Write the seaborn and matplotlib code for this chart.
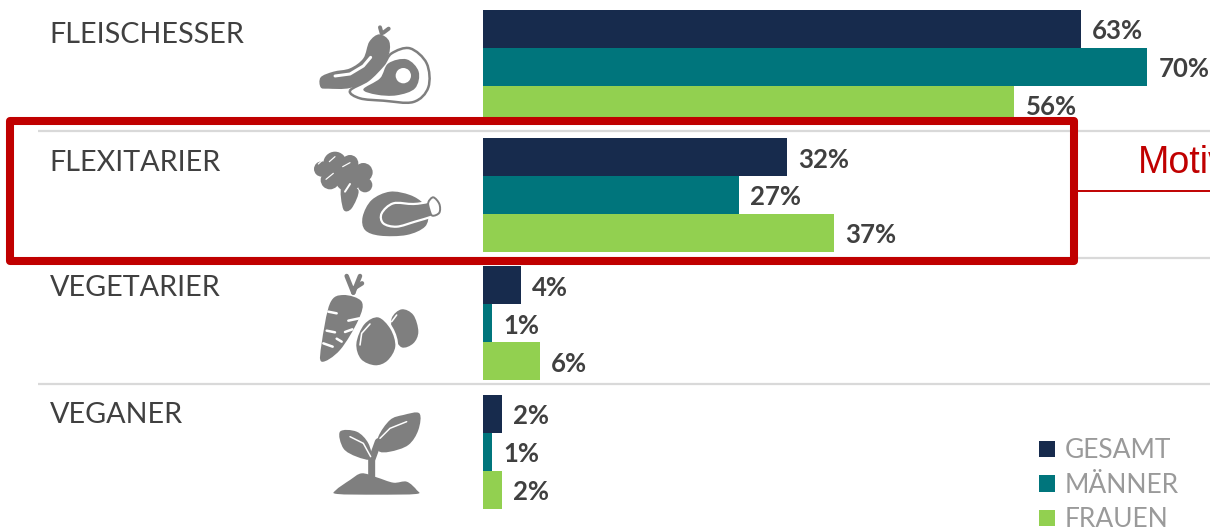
import numpy as np
import pandas as pd
import matplotlib
matplotlib.use("Agg")
import matplotlib.pyplot as plt
from matplotlib.path import Path
from matplotlib.patches import PathPatch, Rectangle, Circle
import seaborn as sns

# Survey shares in percent
diets = ["FLEISCHESSER", "FLEXITARIER", "VEGETARIER", "VEGANER"]
groups = ["GESAMT", "MÄNNER", "FRAUEN"]
gesamt = [63, 32, 4, 2]
maenner = [70, 27, 1, 1]
frauen = [56, 37, 6, 2]
callout = "Motiv"

palette = ["#172B4D", "#00757C", "#92D050"]
ICON = "#7F7F7F"
RED = "#C00000"
W, H = 1210, 527

sns.set_theme(style="white")
plt.rcParams["font.family"] = ["Lato", "DejaVu Sans"]

df = pd.DataFrame({
    "diet": np.repeat(diets, 3),
    "group": groups * 4,
    "share": [v for row in zip(gesamt, maenner, frauen) for v in row],
})

fig = plt.figure(figsize=(W / 100, H / 100), dpi=100, facecolor="white")

# Bars: one group of three per diet, on a percent axis
ax = fig.add_axes([483 / W, 0, (W - 483) / W, 1])
sns.barplot(data=df, y="diet", x="share", hue="group", order=diets, hue_order=groups,
            palette=palette, width=0.888, gap=0, saturation=1, errorbar=None,
            linewidth=0, ax=ax)
ax.set_xlim(0, (W - 483) / 9.49)
ax.set_ylim((H - 66.7) / 128.3, -66.7 / 128.3)
ax.set_xlabel("")
ax.set_ylabel("")
ax.set_xticks([])
ax.set_yticks([])
sns.despine(ax=ax, left=True, bottom=True, top=True, right=True)
ax.patch.set_alpha(0)
for container in ax.containers:
    labels = ax.bar_label(container, fmt="%g%%", padding=8, fontsize=18.5, fontweight="bold",
                          color="#404040", clip_on=False)
    for label in labels:
        label.xyann = (label.xyann[0], -1.8)
ax.legend(frameon=False, loc="lower left", bbox_to_anchor=((1018 - 483) / (W - 483), -0.05),
          fontsize=19, labelcolor="#9A9A9A", handlelength=0.6, handleheight=0.6,
          handletextpad=0.36, labelspacing=0.36, borderpad=0.3)

# Page-level overlay measured in pixels, y pointing down
pg = fig.add_axes([0, 0, 1, 1], zorder=-1)
pg.set_xlim(0, W)
pg.set_ylim(H, 0)
pg.axis("off")
top = fig.add_axes([0, 0, 1, 1], zorder=5)
top.set_xlim(0, W)
top.set_ylim(H, 0)
top.axis("off")
top.patch.set_alpha(0)

for y in (131, 258, 384):
    pg.plot([38, W], [y, y], color="#D9D9D9", lw=1.6, solid_capstyle="butt")

for name, y in zip(diets, (35, 163, 288, 415)):
    top.text(49.5, y, name, fontsize=20.7, color="#404040", va="center", ha="left")

top.add_patch(Rectangle((9.5, 121), 1064.5, 140, fill=False, ec=RED, lw=5.8, joinstyle="round"))
top.plot([1076, W], [191, 191], color=RED, lw=1.4, solid_capstyle="butt")
top.text(1138, 163, callout, fontsize=27, color=RED, va="center", ha="left",
         family=["Liberation Sans"], clip_on=True)


def smooth(points, ox, oy):
    """Closed Catmull-Rom outline through points given at triple scale."""
    p = np.array(points, float) / 3 + (ox, oy)
    n = len(p)
    verts, codes = [p[0]], [Path.MOVETO]
    for i in range(n):
        a, b, c, d = p[i - 1], p[i], p[(i + 1) % n], p[(i + 2) % n]
        verts += [b + (c - a) / 6, c - (d - b) / 6, c]
        codes += [Path.CURVE4] * 3
    return Path(verts, codes)


def blob(points, ox, oy, fc=ICON, ec="none", lw=0, z=6):
    top.add_patch(PathPatch(smooth(points, ox, oy), fc=fc, ec=ec, lw=lw, zorder=z))


def stroke(points, ox, oy, color=ICON, px=2, z=7):
    p = np.array(points, float) / 3 + (ox, oy)
    top.plot(p[:, 0], p[:, 1], color=color, lw=px * 0.72, solid_capstyle="round",
             solid_joinstyle="round", zorder=z)


def disc(x, y, r, ox, oy, color=ICON, z=6):
    top.add_patch(Circle((x / 3 + ox, y / 3 + oy), r / 3, fc=color, ec="none", zorder=z))


# Sausage and steak
ox, oy = 300, 0
blob([(62, 232), (100, 215), (150, 205), (190, 175), (208, 125), (238, 103), (268, 125),
      (262, 175), (215, 235), (150, 264), (85, 266), (62, 262)], ox, oy)
stroke([(245, 100), (240, 82)], ox, oy, px=4)
stroke([(250, 98), (266, 86)], ox, oy, px=4)
stroke([(105, 228), (150, 222), (190, 198), (212, 172)], ox, oy, color="white", px=3)
blob([(150, 272), (205, 240), (250, 195), (275, 160), (330, 145), (380, 190), (385, 262),
      (340, 306), (250, 302), (180, 295)], ox, oy, fc="white", ec=ICON, lw=1.8, z=8)
blob([(190, 268), (240, 235), (265, 190), (320, 178), (356, 215), (345, 265),
      (290, 286), (230, 284)], ox, oy, z=9)
disc(310, 227, 23, ox, oy, color="white", z=10)

# Broccoli and roast chicken
for x, y, r in [(105, 490, 35), (65, 507, 23), (150, 490, 25), (190, 517, 28),
                (195, 555, 22), (90, 540, 28), (145, 535, 40)]:
    disc(x, y, r, ox, oy)
blob([(125, 560), (175, 570), (155, 625), (130, 628)], ox, oy)
stroke([(55, 492), (68, 480)], ox, oy, color="white", px=1.2)
stroke([(88, 485), (105, 470)], ox, oy, color="white", px=1.2)
stroke([(128, 500), (150, 488)], ox, oy, color="white", px=1.2)
stroke([(78, 538), (100, 520)], ox, oy, color="white", px=1.2)
stroke([(135, 575), (150, 552)], ox, oy, color="white", px=2)
blob([(188, 650), (215, 600), (270, 575), (330, 585), (370, 610), (385, 640),
      (375, 680), (320, 705), (240, 707), (195, 690)], ox, oy)
blob([(245, 640), (280, 610), (340, 612), (385, 605), (400, 590), (420, 612), (420, 640),
      (395, 650), (345, 665), (290, 680), (250, 670)], ox, oy, ec="white", lw=1.6, z=7)
blob([(385, 607), (400, 592), (418, 612), (418, 638), (397, 647), (388, 628)], ox, oy,
     fc="white", ec=ICON, lw=1.4, z=8)

# Carrot and eggs
oy = 260
blob([(65, 305), (65, 250), (90, 130), (130, 105), (185, 125), (175, 180), (120, 270)], ox, oy)
for seg in ([(85, 155), (110, 160)], [(80, 212), (105, 217)], [(70, 250), (98, 260)],
            [(178, 175), (145, 182)], [(157, 208), (135, 216)], [(125, 245), (110, 236)]):
    stroke(seg, ox, oy, color="white", px=2.5)
stroke([(160, 98), (140, 48)], ox, oy, px=4.5)
stroke([(160, 98), (180, 48)], ox, oy, px=4.5)
stroke([(162, 85), (186, 70)], ox, oy, px=4.5)
blob([(275, 175), (305, 148), (340, 165), (355, 215), (340, 250), (305, 262), (280, 225)], ox, oy)
blob([(165, 250), (190, 190), (235, 168), (275, 205), (290, 260), (265, 305), (225, 320),
      (180, 300)], ox, oy, ec="white", lw=2, z=7)
stroke([(180, 255), (185, 220), (210, 192)], ox, oy, color="white", px=1.6, z=8)
stroke([(275, 185), (290, 165)], ox, oy, color="white", px=1.6, z=8)

# Sprout
blob([(108, 690), (150, 660), (185, 640), (230, 652), (280, 668), (320, 665), (350, 690),
      (348, 702), (230, 704), (112, 702)], ox, oy)
stroke([(215, 650), (215, 600), (235, 545)], ox, oy, px=7)
blob([(120, 515), (170, 515), (205, 550), (213, 597), (170, 590), (130, 565)], ox, oy)
blob([(235, 530), (270, 480), (310, 465), (358, 460), (355, 510), (325, 555),
      (270, 575), (235, 572)], ox, oy)
stroke([(150, 530), (190, 550), (212, 590)], ox, oy, color="white", px=1.5, z=8)
stroke([(240, 535), (270, 505), (320, 485)], ox, oy, color="white", px=1.5, z=8)

fig.savefig("out.png", dpi=100, facecolor="white")
